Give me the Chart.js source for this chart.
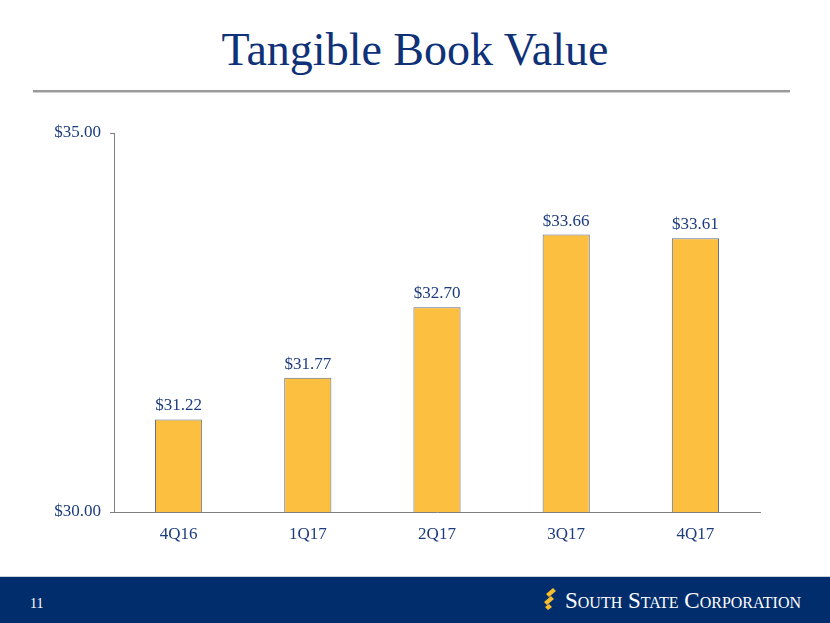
<!DOCTYPE html>
<html>
<head>
<meta charset="utf-8">
<script src="https://cdn.jsdelivr.net/npm/chart.js@4.4.0/dist/chart.umd.min.js"></script>
<style>
  html, body { margin: 0; padding: 0; background: #fff; }
  body { width: 830px; height: 623px; position: relative; overflow: hidden; font-family: "Liberation Serif", serif; }
  #title { position: absolute; left: 0; top: 22px; width: 830px; text-align: center; font-size: 46px; color: #0E3177; line-height: 56px; }
  #rule { position: absolute; left: 33px; top: 90px; width: 757px; height: 2px; background: #9a9a9a; border-bottom: 1px solid #cfcfcf; }
  #chartBox { position: absolute; left: 0; top: 110px; width: 830px; height: 450px; }
  #footer { position: absolute; left: 0; top: 576px; width: 830px; height: 47px; background: #022D6D; border-top: 1px solid #c9d0de; }
  #page { position: absolute; left: 30px; top: 19px; color: #fff; font-size: 14px; }
  #logo { position: absolute; left: 543px; top: 10px; color: #fff; font-size: 23px; font-variant: small-caps; white-space: nowrap; }
  #logo svg { vertical-align: -3px; margin-right: 8px; }
</style>
</head>
<body>
<div id="title">Tangible Book Value</div>
<div id="rule"></div>
<div id="chartBox"><canvas id="tbvChart"></canvas></div>
<div id="footer">
  <div id="page">11</div>
  <div id="logo"><svg width="14" height="24" viewBox="0 0 14 24"><path d="M10 1 L3 7 L6 10 L13 4 Z M8 9 L1 15 L4 18 L11 12 Z M6 17 L2 20 L5 23 L9 20 Z" fill="#F6BE2C"/></svg>South State Corporation</div>
</div>

<script>
// DONNEES DU GRAPHIQUE
const quarters = ['4Q16', '1Q17', '2Q17', '3Q17', '4Q17'];
const bookValues = [31.22, 31.77, 32.70, 33.66, 33.61];
const yTicks = [30, 35];

const navy = '#1C3C7E';

// Etiquettes au-dessus des barres
const valueLabels = {
    id: 'valueLabels',
    afterDatasetsDraw(chart) {
        const c = chart.ctx;
        const meta = chart.getDatasetMeta(0);
        c.save();
        c.font = '17px "Liberation Serif", serif';
        c.fillStyle = navy;
        c.textAlign = 'center';
        c.textBaseline = 'bottom';
        meta.data.forEach((bar, i) => {
            c.fillText('$' + bookValues[i].toFixed(2), bar.x, bar.y - 5);
        });
        c.restore();
    }
};

const ctx = document.getElementById('tbvChart').getContext('2d');
new Chart(ctx, {
    type: 'bar',
    data: {
        labels: quarters,
        datasets: [{
            data: bookValues,
            backgroundColor: '#FDBF3F',
            borderColor: '#5E6F8E',
            borderWidth: 1,
            categoryPercentage: 1,
            barPercentage: 0.365
        }]
    },
    options: {
        responsive: true,
        maintainAspectRatio: false,
        animation: false,
        layout: { padding: { top: 23, right: 70, left: 0, bottom: 0 } },
        plugins: { legend: { display: false }, tooltip: { enabled: false } },
        scales: {
            y: {
                min: 30,
                max: 35,
                afterFit: (s) => { s.width = 114; },
                afterBuildTicks: (s) => { s.ticks = yTicks.map(v => ({ value: v })); },
                grid: { drawOnChartArea: false, tickLength: 4, color: '#7f7f7f' },
                border: { color: '#7f7f7f', width: 1 },
                ticks: {
                    padding: 9,
                    color: navy,
                    font: { family: '"Liberation Serif", serif', size: 17 },
                    callback: (v) => '$' + Number(v).toFixed(2)
                }
            },
            x: {
                afterFit: (s) => { s.height = 48; },
                grid: { display: false },
                border: { color: '#7f7f7f', width: 1 },
                ticks: {
                    padding: 4,
                    color: navy,
                    font: { family: '"Liberation Serif", serif', size: 17 }
                }
            }
        }
    },
    plugins: [valueLabels]
});
</script>
</body>
</html>
